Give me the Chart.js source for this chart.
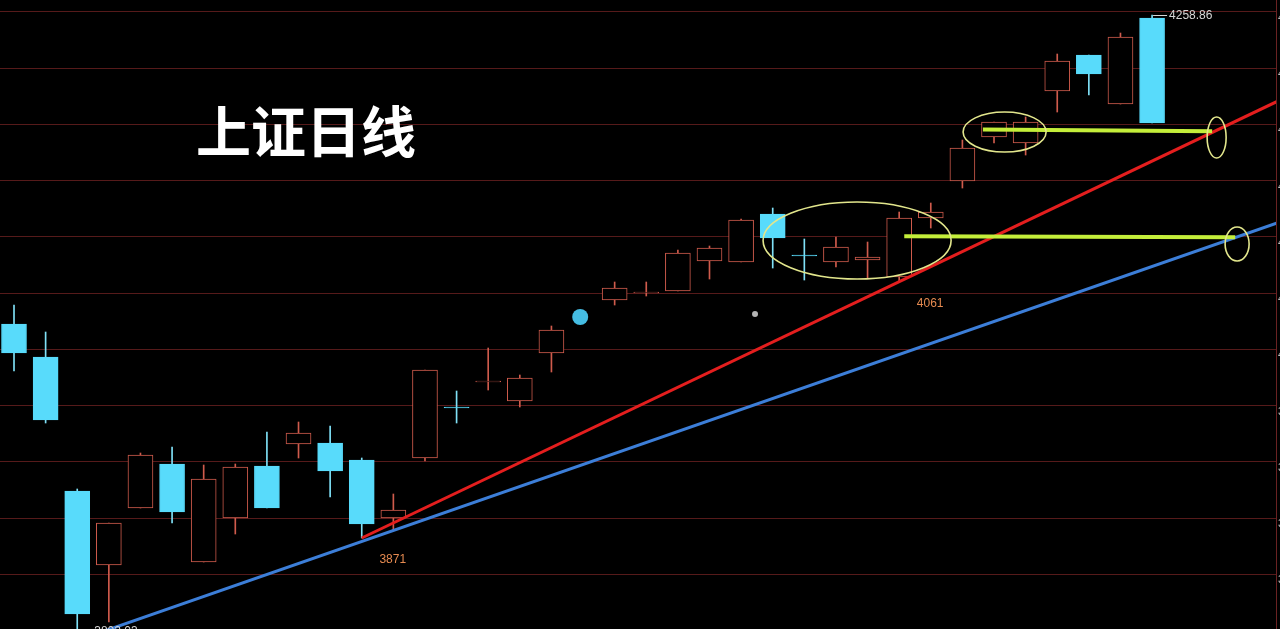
<!DOCTYPE html>
<html>
<head>
<meta charset="utf-8">
<script src="https://cdn.jsdelivr.net/npm/chart.js@4.4.1/dist/chart.umd.min.js"></script>
<style>
  html, body { margin: 0; padding: 0; background: #000; overflow: hidden; }
  #wrap { position: relative; width: 1280px; height: 629px; }
  canvas { display: block; }
</style>
</head>
<body>
<div id="wrap"><canvas id="c" width="1280" height="629"></canvas></div>
<script>
// ---------- data (上证指数 daily candles) ----------
const title = '上证日线';
const dayIndex = [0,1,2,3,4,5,6,7,8,9,10,11,12,13,14,15,16,17,18,19,20,21,22,23,24,25,26,27,28,29,30,31,32,33,34,35,36];
const openP  = [4029.70,4005.23,3905.85,3850.97,3893.25,3925.88,3853.20,3885.83,3924.39,3940.71,3941.45,3928.84,3885.83,3930.33,3968.15,3986.69,3972.60,4008.20,null,4047.50,4052.70,4054.18,4076.42,4075.68,4111.28,4080.87,4075.68,4077.17,4064.56,4108.31,4135.75,4168.38,4163.93,4202.50,4229.20,4192.86,4256.64];
const highP  = [4043.79,4023.77,3907.34,3882.12,3934.03,3938.48,3925.14,3925.88,3949.61,3957.02,3954.06,3930.33,3903.63,3995.59,3980.01,4011.90,3991.88,4028.22,null,4060.85,4060.85,4084.58,4087.55,4107.57,4115.73,4092.74,4094.22,4090.51,4112.76,4119.44,4166.16,4179.51,4183.22,4229.94,4229.20,4245.51,4258.86];
const lowP   = [3994.85,3956.28,3802.03,3808.70,3893.25,3882.12,3853.20,3873.96,3893.25,3930.33,3901.40,3871.00,3876.93,3928.10,3956.28,3980.76,3968.15,3994.11,null,4043.79,4050.47,4054.18,4063.07,4075.68,4071.23,4062.33,4071.97,4063.82,4061.00,4100.90,4130.56,4163.93,4155.03,4186.92,4199.53,4192.86,4178.77];
const closeP = [4008.20,3958.51,3814.64,3882.12,3932.55,3890.28,3914.75,3923.65,3893.25,3948.87,3920.69,3881.38,3891.76,3995.59,3967.41,3987.43,3989.66,4025.25,null,4056.40,4053.43,4082.36,4086.06,4106.83,4093.48,4080.13,4086.81,4079.39,4108.31,4112.76,4160.23,4179.51,4179.51,4224.75,4215.10,4242.54,4178.77];

// price grid lines (right axis, labels mostly cut off at the edge)
const gridPrices = [4261.27,4219.55,4177.83,4136.11,4094.39,4052.67,4010.95,3969.23,3927.51,3885.79,3844.07];

// trend lines drawn on the chart [dayIndex, price]
const redTrendX  = [11, 40.05];
const redTrendY  = [3871.00, 4195.80];
const blueTrendX = [2, 40.05];
const blueTrendY = [3795.00, 4105.35];
// support lines (yellow-green)
const upperSupportX = [30.65, 37.90];
const upperSupportY = [4173.95, 4172.61];
const lowerSupportX = [28.16, 38.63];
const lowerSupportY = [4094.74, 4094.00];

// ellipse marks: centre day, centre price, half-width (days), half-height (price)
const ellipseCX = [31.335, 26.669, 38.042, 38.69];
const ellipseCY = [4172.09, 4091.63, 4168.01, 4089.03];
const ellipseRX = [1.313, 2.974, 0.3005, 0.3796];
const ellipseRY = [14.83, 28.55, 15.20, 12.61];

// annotated lows (orange) and software high/low labels (white)
const markedLowDays = [11, 28];
const extremeHighDay = 36;
const extremeLowDay = 2;

// stray photo marks in the picture
const photoMarkX = [17.91, 23.44];
const photoMarkY = [4034.89, 4037.12];

// ---------- build datasets ----------
const UP = '#cf5b4c', DOWN = '#58dbfb', DOWN_WICK = '#7fe0f6';
const bodies = [], wicks = [], bodyFill = [], bodyLine = [], wickCol = [];
dayIndex.forEach((d, i) => {
  if (openP[i] == null) return;
  const up = closeP[i] >= openP[i];
  bodies.push({ x: d, y: [openP[i], closeP[i]] });
  wicks.push({ x: d, y: [lowP[i], highP[i]] });
  bodyFill.push(up ? '#000000' : DOWN);
  bodyLine.push(up ? UP : DOWN);
  wickCol.push(up ? UP : DOWN_WICK);
});
const pts = (xs, ys) => xs.map((x, i) => ({ x, y: ys[i] }));

const overlay = {
  id: 'overlay',
  afterDatasetsDraw(chart) {
    const { ctx, scales: { x, y } } = chart;
    ctx.save();
    // ellipses
    ctx.strokeStyle = '#e2e68c';
    ctx.lineWidth = 1.6;
    ellipseCX.forEach((cx, i) => {
      const px = x.getPixelForValue(cx), py = y.getPixelForValue(ellipseCY[i]);
      const rx = Math.abs(x.getPixelForValue(cx + ellipseRX[i]) - px);
      const ry = Math.abs(y.getPixelForValue(ellipseCY[i] + ellipseRY[i]) - py);
      ctx.beginPath();
      ctx.ellipse(px, py, rx, ry, 0, 0, Math.PI * 2);
      ctx.stroke();
    });
    // orange low labels
    ctx.font = '12px "Liberation Sans", Arial, sans-serif';
    ctx.fillStyle = '#e58a50';
    ctx.textAlign = 'center';
    ctx.textBaseline = 'middle';
    markedLowDays.forEach(d => {
      const i = dayIndex.indexOf(d);
      const px = x.getPixelForValue(d) + 31, py = y.getPixelForValue(lowP[i]) + 22;
      ctx.fillText(String(Math.round(lowP[i])), px, py);
    });
    // white extreme labels
    ctx.fillStyle = '#d6d6d6';
    ctx.strokeStyle = '#d6d6d6';
    ctx.lineWidth = 1;
    ctx.textAlign = 'left';
    [[extremeHighDay, highP], [extremeLowDay, lowP]].forEach(([d, arr]) => {
      const i = dayIndex.indexOf(d);
      const px = x.getPixelForValue(d), py = Math.round(y.getPixelForValue(arr[i])) + 0.5;
      ctx.beginPath();
      ctx.moveTo(px + 1, py); ctx.lineTo(px + 15, py); ctx.stroke();
      ctx.fillText(arr[i].toFixed(2), px + 17, py);
    });
    // title
    ctx.font = 'bold 55px "Noto Sans CJK SC", sans-serif';
    ctx.fillStyle = '#ffffff';
    ctx.textAlign = 'center';
    ctx.textBaseline = 'middle';
    ctx.fillText(title, 306, 131);
    ctx.restore();
  }
};

new Chart(document.getElementById('c'), {
  type: 'bar',
  data: {
    datasets: [
      { type: 'line', data: pts(upperSupportX, upperSupportY), borderColor: '#c4ee3a', borderWidth: 4, pointRadius: 0, order: 0 },
      { type: 'line', data: pts(lowerSupportX, lowerSupportY), borderColor: '#c4ee3a', borderWidth: 4, pointRadius: 0, order: 0 },
      { type: 'line', data: pts(redTrendX, redTrendY), borderColor: '#e41e1e', borderWidth: 3, pointRadius: 0, order: 1 },
      { type: 'line', data: pts(blueTrendX, blueTrendY), borderColor: '#3c7ed8', borderWidth: 3, pointRadius: 0, order: 1 },
      { type: 'scatter', data: pts(photoMarkX, photoMarkY), pointRadius: [8, 3], backgroundColor: ['#45bde3', 'rgba(225,225,225,0.8)'], borderWidth: 0, order: 2 },
      { type: 'bar', data: bodies, grouped: false, barThickness: 25, backgroundColor: bodyFill, borderColor: bodyLine, borderWidth: 1, borderSkipped: false, order: 3 },
      { type: 'bar', data: wicks, grouped: false, barThickness: 1, backgroundColor: wickCol, borderWidth: 0, order: 4 }
    ]
  },
  options: {
    responsive: false,
    animation: false,
    devicePixelRatio: 1,
    layout: { padding: 0, autoPadding: false },
    plugins: { legend: { display: false }, tooltip: { enabled: false } },
    scales: {
      x: { type: 'linear', min: -0.443, max: 39.92, offset: false, display: false },
      y: {
        position: 'right', min: 3803.51, max: 4270.00,
        afterBuildTicks: s => { s.ticks = gridPrices.map(v => ({ value: v })); },
        afterFit: s => { s.width = 4; s.paddingTop = 0; s.paddingBottom = 0; },
        grid: { color: '#561a1a', lineWidth: 1, drawTicks: false },
        border: { display: true, color: '#6a2222' },
        ticks: { color: '#bdbdbd', padding: 2, labelOffset: 6, autoSkip: false, font: { size: 11 }, callback: v => v.toFixed(2) }
      }
    }
  },
  plugins: [overlay]
});
</script>
</body>
</html>
